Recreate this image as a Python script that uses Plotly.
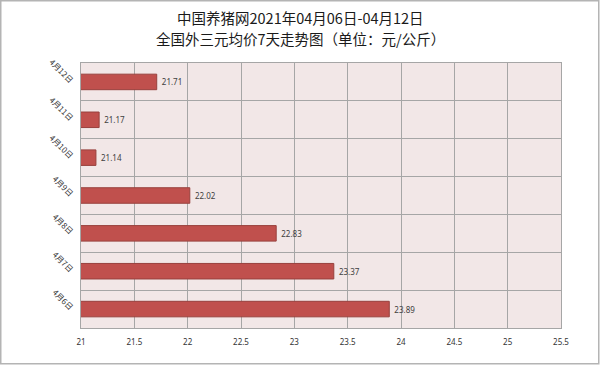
import plotly.graph_objects as go

dates = ["4月6日", "4月7日", "4月8日", "4月9日", "4月10日", "4月11日", "4月12日"]
prices = [23.89, 23.37, 22.83, 22.02, 21.14, 21.17, 21.71]
x_ticks = [21, 21.5, 22, 22.5, 23, 23.5, 24, 24.5, 25, 25.5]
x_tick_text = ["21", "21.5", "22", "22.5", "23", "23.5", "24", "24.5", "25", "25.5"]
title_lines = ["中国养猪网2021年04月06日-04月12日", "全国外三元均价7天走势图（单位：元/公斤）"]

W, H = 600, 365
L, R, T, B = 81, 39, 63, 37
pw, ph = W - L - R, H - T - B

fig = go.Figure(go.Bar(
    y=dates, x=prices, orientation="h",
    marker=dict(color="#c0504d", line=dict(color="#98403d", width=1)),
    text=[" " + f"{v:.2f}" for v in prices], textposition="outside",
    textfont=dict(size=8, color="#404040", family="Noto Sans"),
    cliponaxis=False, hoverinfo="skip",
))

title_y_px = [17, 38]
annotations = [
    dict(text=t, xref="paper", yref="paper", x=0.5 - (L - R) / 2 / pw,
         y=1 + (T - yp) / ph, xanchor="center", yanchor="middle",
         showarrow=False, font=dict(size=14.5, color="#1a1a1a", family="Noto Sans CJK SC"))
    for t, yp in zip(title_lines, title_y_px)
]

fig.update_layout(
    width=W, height=H,
    margin=dict(l=L, r=R, t=T, b=B),
    paper_bgcolor="white", plot_bgcolor="#f2e7e7",
    bargap=0.59,
    showlegend=False,
    font=dict(family="Noto Sans CJK SC", color="#333333"),
    annotations=annotations,
    xaxis=dict(
        range=[21, 25.5], tickvals=x_ticks, ticktext=x_tick_text,
        showgrid=True, gridcolor="#a6a6a6", gridwidth=1,
        showline=True, linecolor="#a6a6a6", mirror=True, linewidth=1,
        zeroline=False, ticks="", automargin=False,
        tickfont=dict(size=8, color="#333333", family="Noto Sans"),
        ticklabelstandoff=6,
    ),
    yaxis=dict(
        type="category", automargin=False,
        tickson="boundaries", showgrid=True, gridcolor="#a6a6a6", gridwidth=1,
        showline=True, linecolor="#a6a6a6", mirror=True, linewidth=1,
        ticks="", tickangle=45,
        tickfont=dict(size=8, color="#333333", family="Noto Sans CJK SC"),
        ticklabelstandoff=6,
    ),
    shapes=[dict(
        type="rect", xref="paper", yref="paper",
        x0=(-L + 0.75) / pw, x1=1 + (R - 1.25) / pw,
        y0=(-B + 1.25) / ph, y1=1 + (T - 0.75) / ph,
        line=dict(color="#b4b4b4", width=1.5), layer="above",
    )],
)

fig.write_html(
    "out.html",
    config={"displayModeBar": False},
    post_script="document.body.style.margin='0';document.body.style.overflow='hidden';",
)
